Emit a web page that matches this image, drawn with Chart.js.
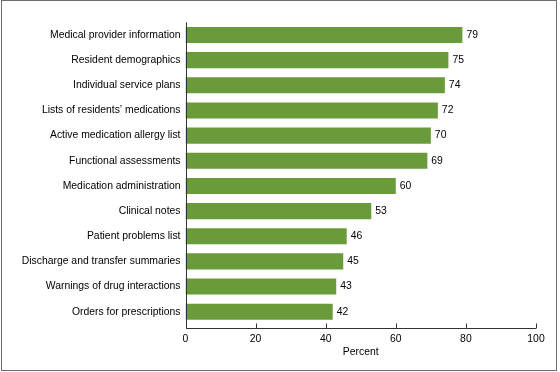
<!DOCTYPE html>
<html><head><meta charset="utf-8">
<script src="https://cdn.jsdelivr.net/npm/chart.js@4"></script>
<style>html,body{margin:0;padding:0;background:#fff}#w{width:560px;height:372px;position:relative}</style>
</head><body><div id="w"><canvas id="c" width="560" height="372"></canvas></div>
<script>
const categories = ["Medical provider information","Resident demographics","Individual service plans","Lists of residents\u2019 medications","Active medication allergy list","Functional assessments","Medication administration","Clinical notes","Patient problems list","Discharge and transfer summaries","Warnings of drug interactions","Orders for prescriptions"];
const values = [79,75,74,72,70,69,60,53,46,45,43,42];
const xTicks = [0,20,40,60,80,100];
const xTitle = "Percent";

const FONT = "'Liberation Sans', Arial, sans-serif";
const AXIS_GAP = 4;

const deco = {
  id:'deco',
  beforeDraw(chart){
    const ctx = chart.ctx;
    ctx.save();
    ctx.fillStyle = '#fff';
    ctx.fillRect(0,0,chart.width,chart.height);
    ctx.strokeStyle = '#6e6e6e';
    ctx.lineWidth = 1;
    ctx.strokeRect(1.5,0.5,555,370);
    ctx.restore();
  },
  afterDraw(chart){
    const ctx = chart.ctx, a = chart.chartArea, xs = chart.scales.x;
    const yb = Math.round(a.bottom + AXIS_GAP) + 0.5;
    const xl = Math.round(a.left) + 0.5;
    ctx.save();
    ctx.strokeStyle = '#333';
    ctx.lineWidth = 1;
    ctx.beginPath();
    ctx.moveTo(xl, a.top); ctx.lineTo(xl, yb);
    ctx.lineTo(xs.getPixelForValue(100), yb);
    xTicks.forEach(t => { const px = Math.round(xs.getPixelForValue(t)) + 0.5; ctx.moveTo(px, yb); ctx.lineTo(px, yb - 5); });
    ctx.stroke();
    // value labels
    ctx.fillStyle = '#000';
    ctx.font = "10.4px " + FONT;
    ctx.textBaseline = 'middle';
    ctx.textAlign = 'left';
    chart.getDatasetMeta(0).data.forEach((bar, i) => {
      ctx.fillText(String(values[i]), bar.x + 4, bar.y);
    });
    ctx.restore();
  }
};

new Chart(document.getElementById('c'), {
  type: 'bar',
  data: { labels: categories, datasets: [{ data: values, backgroundColor: '#6a9b3b', borderWidth: 0, barPercentage: 0.64, categoryPercentage: 1.0 }] },
  options: {
    indexAxis: 'y',
    responsive: false,
    animation: false,
    devicePixelRatio: 1,
    layout: { padding: { top: 22.4, right: 24, left: 0, bottom: 14 } },
    plugins: { legend: { display: false }, tooltip: { enabled: false } },
    scales: {
      y: {
        grid: { display: false, drawTicks: false },
        border: { display: false },
        ticks: { color: '#000', font: { family: FONT, size: 10.4 }, padding: 5 },
        afterFit(s){ s.width = 185.5; }
      },
      x: {
        min: 0, max: 100,
        afterBuildTicks(s){ s.ticks = xTicks.map(v => ({ value: v })); },
        grid: { display: false, drawTicks: false },
        border: { display: false },
        ticks: { color: '#000', font: { family: FONT, size: 10.4 }, padding: 9, maxRotation: 0 },
        title: { display: true, text: xTitle, color: '#000', font: { family: FONT, size: 10.4 }, padding: { top: 2, bottom: 0 } },
        afterFit(s){ s.height = 33.7; }
      }
    }
  },
  plugins: [deco]
});
</script></body></html>
